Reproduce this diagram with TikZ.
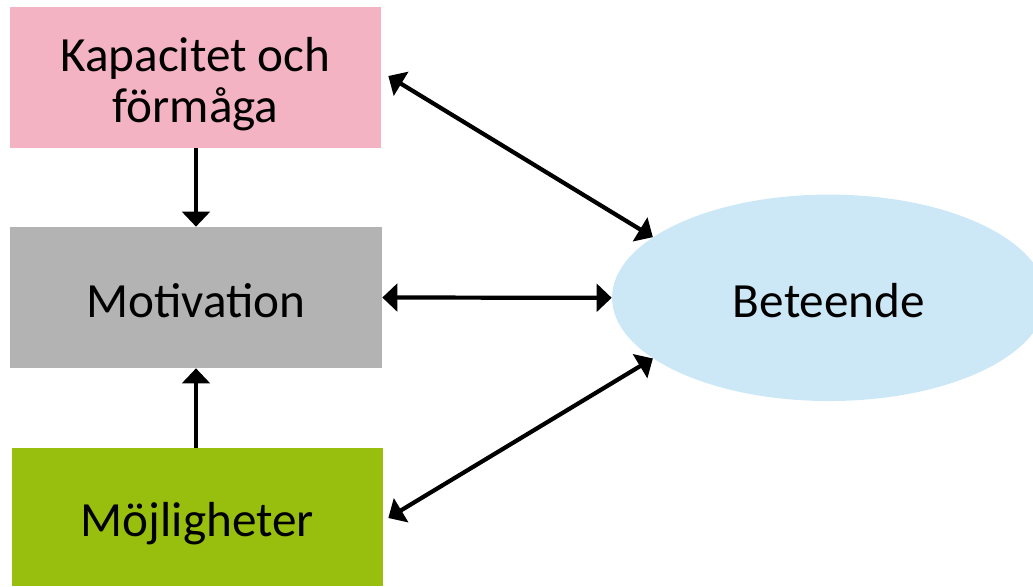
\documentclass[tikz,border=0pt]{standalone}
\usepackage{fontspec}
\setmainfont{Carlito}
\usepackage{xcolor}
\usepackage{tikz}
\usetikzlibrary{arrows.meta,positioning,shapes.geometric,calc}

\definecolor{kapcol}{HTML}{F4B3C2}
\definecolor{motcol}{HTML}{B3B3B4}
\definecolor{mojcol}{HTML}{99BF0E}
\definecolor{betcol}{HTML}{CCE8F7}

\tikzset{
  label font/.style={font=\fontsize{28}{28.5}\selectfont, text height=0.78cm, text depth=0pt},
  box/.style={rectangle, minimum width=7.42cm, minimum height=2.82cm, align=center, label font},
  link/.style={line width=2.4pt, {Triangle[length=0.3cm,width=0.55cm]}-{Triangle[length=0.3cm,width=0.55cm]}},
  flow/.style={line width=2.4pt, -{Triangle[length=0.3cm,width=0.55cm]}}
}

\begin{document}
\begin{tikzpicture}[x=0.02cm, y=-0.02cm]
\useasboundingbox (0,0) rectangle (1033,586);

% the three boxes
\node[box, fill=kapcol, text height=1.78cm] (kap) at (195.5,77.5) {Kapacitet och\\förmåga};
\node[box, fill=motcol, minimum width=7.44cm] (mot) at (196,297.5) {Motivation};
\node[box, fill=mojcol, minimum height=2.76cm] (moj) at (197.5,517) {Möjligheter};

% behaviour (runs past the right edge)
\node[ellipse, fill=betcol, inner sep=0pt, minimum width=8.68cm, minimum height=4.13cm,
  label font] (bet) at (829,297.8) {Beteende};

% arrows into motivation
\draw[flow] (kap.south -| mot.north) -- (mot.north);
\draw[flow] (moj.north -| mot.south) -- (mot.south);

% arrows to and from behaviour
\draw[link] ($(kap.east)+(7,-1.5)$) -- (bet.161);
\draw[link] (mot.east) -- (bet.west);
\draw[link] ($(moj.east)+(5,1)$) -- (bet.199);
\end{tikzpicture}
\end{document}
